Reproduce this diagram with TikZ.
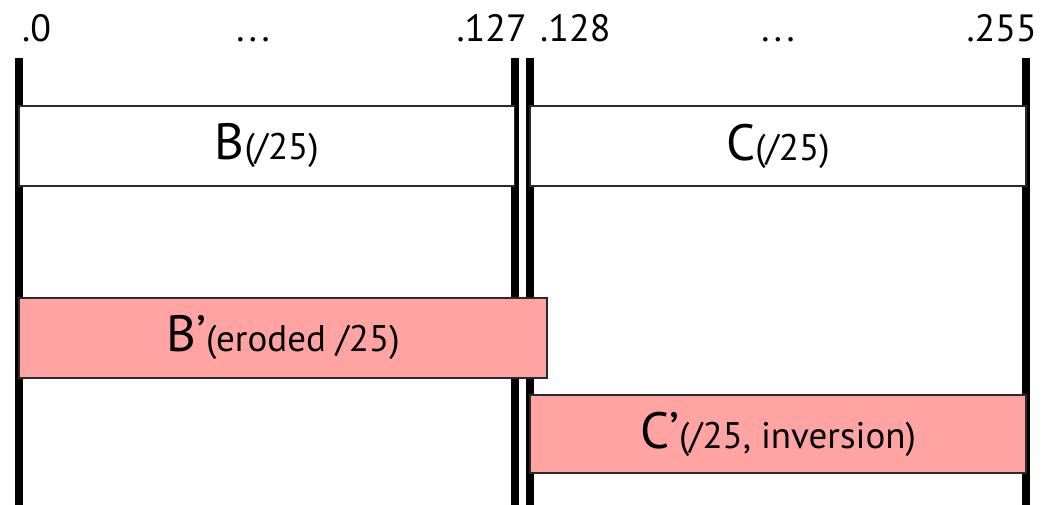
\documentclass[tikz,border=0pt]{standalone}
\usepackage{fontspec}
\setmainfont{PT Sans}
\definecolor{segpink}{HTML}{FFA3A3}
\definecolor{edgegray}{HTML}{2A2A2A}
\tikzset{
  rail/.style={line width=8pt, black},
  segbox/.style={draw=edgegray, line width=1.1pt, inner sep=0pt, anchor=center},
  plainseg/.style={segbox, fill=white, minimum height=80pt},
  pinkseg/.style={segbox, fill=segpink},
  addr/.style={font=\fontsize{38}{40}\selectfont, inner sep=0pt},
}
\newcommand{\segname}[2]{{\fontsize{51}{54}\selectfont #1}{\fontsize{37}{40}\selectfont #2}}
% loosely spaced ellipsis
\newcommand{\wideellipsis}{.\hspace{4.5pt}.\hspace{4.5pt}.}
\begin{document}
\begin{tikzpicture}[x=1pt,y=-1pt]
  \useasboundingbox (0,0) rectangle (1044,505);
  % address labels along the top
  \node[addr, anchor=base west] (a0)   at (22,42)   {.0};
  \node[addr, anchor=base]      (d1)   at (253,42)  {\wideellipsis};
  \node[addr, anchor=base east] (a127) at (527,42)  {.127};
  \node[addr, anchor=base west] (a128) at (540,42)  {.128};
  \node[addr, anchor=base]      (d2)   at (778,42)  {\wideellipsis};
  \node[addr, anchor=base east] (a255) at (1037,42) {.255};
  % boundary rails
  \coordinate (r1t) at (19,58);    \coordinate (r1b) at (19,505);
  \coordinate (r2t) at (514.5,58); \coordinate (r2b) at (514.5,505);
  \coordinate (r3t) at (530,58);   \coordinate (r3b) at (530,505);
  \coordinate (r4t) at (1026,58);  \coordinate (r4b) at (1026,505);
  \draw[rail] (r1t) -- (r1b);
  \draw[rail] (r2t) -- (r2b);
  \draw[rail] (r3t) -- (r3b);
  \draw[rail] (r4t) -- (r4b);
  % address blocks
  \node[plainseg, minimum width=495.5pt] (B) at (266.75,146) {\segname{B}{(/25)}};
  \node[plainseg, minimum width=496pt]   (C) at (778,146)    {\segname{C}{(/25)}};
  \node[pinkseg, minimum width=528pt, minimum height=80pt] (Bp) at (283,338) {\segname{B’}{(eroded /25)}};
  \node[pinkseg, minimum width=496pt, minimum height=78pt] (Cp) at (778,434) {\segname{C’}{(/25, inversion)}};
\end{tikzpicture}
\end{document}
